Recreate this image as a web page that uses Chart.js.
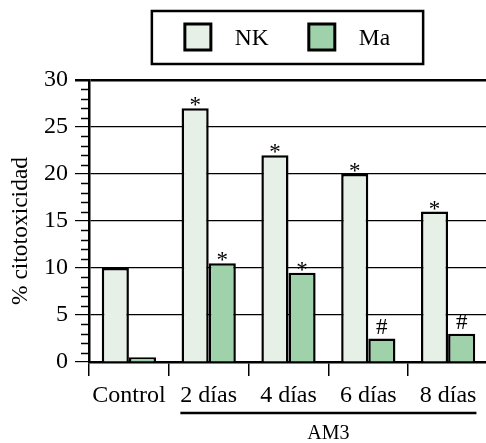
<!DOCTYPE html>
<html>
<head>
<meta charset="utf-8">
<script src="https://cdn.jsdelivr.net/npm/chart.js@4.4.0/dist/chart.umd.min.js"></script>
<style>
  html, body { margin: 0; padding: 0; overflow: hidden; background: #fff; }
</style>
</head>
<body>
<canvas id="chart" width="488" height="443"></canvas>
<script>
// data
const categories = ['Control', '2 días', '4 días', '6 días', '8 días'];
const nkValues = [10, 27, 22, 20, 16];
const maValues = [0.5, 10.5, 9.5, 2.5, 3];
const nkMarks = ['', '*', '*', '*', '*'];
const maMarks = ['', '*', '*', '#', '#'];
const groupLabel = 'AM3';
const groupFirst = 1, groupLast = 4;

const serif = "'Liberation Serif', 'Times New Roman', Times, serif";
const nkColor = '#e6f0e7';
const maColor = '#9fd1aa';

// legend box, minor ticks, axis title, group bracket, significance marks
const extras = {
  id: 'extras',
  afterDatasetsDraw(chart) {
    const ctx = chart.ctx;
    ctx.save();
    ctx.fillStyle = '#000';
    ctx.font = '23px ' + serif;
    ctx.textAlign = 'center';
    ctx.textBaseline = 'alphabetic';
    [nkMarks, maMarks].forEach((marks, di) => {
      const meta = chart.getDatasetMeta(di);
      marks.forEach((m, i) => {
        if (!m) return;
        const bar = meta.data[i];
        const off = m === '*' ? 4 : -5;
        ctx.fillText(m, bar.x, bar.y + off);
      });
    });
    ctx.restore();
  },
  afterDraw(chart) {
    const ctx = chart.ctx;
    const area = chart.chartArea;
    const y = chart.scales.y;
    const x = chart.scales.x;
    ctx.save();

    // minor ticks
    ctx.strokeStyle = '#000';
    ctx.lineWidth = 1.5;
    for (let v = Math.ceil(y.min); v <= y.max; v++) {
      if (v % 5 === 0) continue;
      const py = Math.round(y.getPixelForValue(v)) + 0.5;
      ctx.beginPath();
      ctx.moveTo(area.left - 8, py);
      ctx.lineTo(area.left, py);
      ctx.stroke();
    }

    // y title
    ctx.fillStyle = '#000';
    ctx.font = '23.5px ' + serif;
    ctx.textAlign = 'center';
    ctx.textBaseline = 'middle';
    ctx.save();
    ctx.translate(21, 231);
    ctx.rotate(-Math.PI / 2);
    ctx.fillText('% citotoxicidad', 0, 0);
    ctx.restore();

    // group bracket under the AM3 days
    ctx.font = '24px ' + serif;
    const wFirst = ctx.measureText(categories[groupFirst]).width;
    const wLast = ctx.measureText(categories[groupLast]).width;
    const x0 = x.getPixelForValue(groupFirst) - wFirst / 2;
    const x1 = x.getPixelForValue(groupLast) + wLast / 2;
    ctx.lineWidth = 2.5;
    ctx.beginPath();
    ctx.moveTo(x0, 413);
    ctx.lineTo(x1, 413);
    ctx.stroke();
    ctx.font = '20px ' + serif;
    ctx.textBaseline = 'alphabetic';
    ctx.fillText(groupLabel, (x.getPixelForValue(groupFirst) + x.getPixelForValue(groupLast)) / 2, 439);

    // legend
    const names = chart.data.datasets.map(d => d.label);
    const fills = chart.data.datasets.map(d => d.backgroundColor);
    ctx.font = '23.5px ' + serif;
    const sw = 26, gapText = 24, gapItem = 40, pad = 33;
    const widths = names.map(n => ctx.measureText(n).width);
    let content = 0;
    widths.forEach((w, i) => { content += sw + gapText + w + (i ? gapItem : 0); });
    const cx = (area.left + area.right - 2) / 2;
    const bx = cx - content / 2 - pad;
    const bw = content + pad * 2;
    ctx.lineWidth = 2.5;
    ctx.strokeRect(bx, 11, bw, 53);
    let px = bx + pad;
    ctx.textAlign = 'left';
    ctx.textBaseline = 'middle';
    names.forEach((n, i) => {
      ctx.fillStyle = fills[i];
      ctx.fillRect(px, 24, sw, sw);
      ctx.lineWidth = 3;
      ctx.strokeRect(px, 24, sw, sw);
      ctx.fillStyle = '#000';
      ctx.fillText(n, px + sw + gapText, 39);
      px += sw + gapText + widths[i] + gapItem;
    });

    ctx.restore();
  }
};

new Chart(document.getElementById('chart'), {
  type: 'bar',
  data: {
    labels: categories,
    datasets: [
      { label: 'NK', data: nkValues, backgroundColor: nkColor, borderColor: '#000', borderWidth: 2.5 },
      { label: 'Ma', data: maValues, backgroundColor: maColor, borderColor: '#000', borderWidth: 2.5 }
    ]
  },
  options: {
    responsive: false,
    animation: false,
    layout: { padding: { top: 80, left: 0, right: 0, bottom: 0 } },
    datasets: { bar: { barPercentage: 1, categoryPercentage: 0.68 } },
    plugins: { legend: { display: false }, tooltip: { enabled: false } },
    scales: {
      x: {
        afterFit(s) { s.height = 81; },
        grid: { offset: true, drawOnChartArea: false, color: '#000', lineWidth: 1.5, tickLength: 14 },
        border: { color: '#000', width: 2.5 },
        ticks: { color: '#000', font: { family: serif, size: 24 }, padding: 5, maxRotation: 0 }
      },
      y: {
        min: 0, max: 30,
        afterFit(s) { s.width = 89; },
        grid: {
          color: '#000',
          lineWidth: c => (c.tick && c.tick.value === 30 ? 2.5 : 1.2),
          tickLength: 14
        },
        border: { color: '#000', width: 2.5 },
        ticks: { stepSize: 5, color: '#000', font: { family: serif, size: 24 }, padding: 7 }
      }
    }
  },
  plugins: [extras]
});
</script>
</body>
</html>
